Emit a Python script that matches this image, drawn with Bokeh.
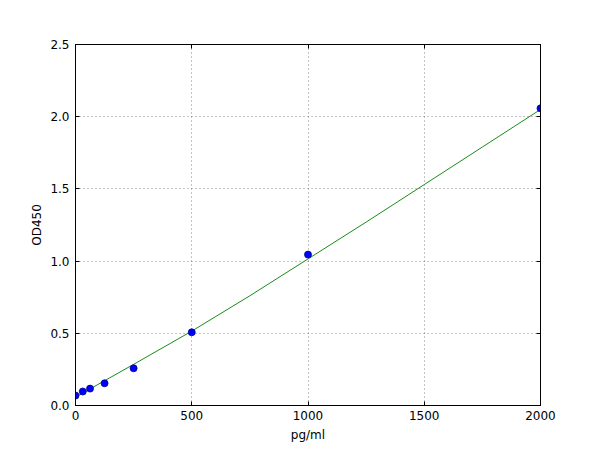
from bokeh.plotting import figure
from bokeh.models import Range1d, LinearAxis, FixedTicker, PrintfTickFormatter
from bokeh.embed import file_html
from bokeh.resources import INLINE

# measured standards
conc = [0, 31.25, 62.5, 125, 250, 500, 1000, 2000]
od = [0.069, 0.097, 0.117, 0.154, 0.258, 0.507, 1.045, 2.058]

# fitted curve
fit_x = [0, 250, 500, 750, 1000, 1250, 1500, 1750, 2000]
fit_y = [0.058, 0.285, 0.515, 0.76, 1.015, 1.27, 1.53, 1.79, 2.05]

x_ticks = [0, 500, 1000, 1500, 2000]
y_ticks = [0.0, 0.5, 1.0, 1.5, 2.0, 2.5]

FONT = "DejaVu Sans"

p = figure(frame_width=465, frame_height=361, output_backend="svg", toolbar_location=None,
           x_range=Range1d(0, 2000), y_range=Range1d(0, 2.5),
           min_border_left=75, min_border_right=52, min_border_top=44, min_border_bottom=37)
p.background_fill_color = "white"
p.border_fill_color = "white"
p.outline_line_color = "black"
p.outline_line_width = 1

p.line(fit_x, fit_y, line_color="#1a8c1a", line_width=1)
p.scatter(conc, od, size=7, fill_color="#0000ff", line_color="#00008b", line_width=0.8)

for ax in (p.xaxis[0], p.yaxis[0]):
    ax.major_tick_in = 4
    ax.major_tick_out = 0
    ax.minor_tick_line_color = None
    ax.major_label_text_font = FONT
    ax.major_label_text_font_size = "12px"
    ax.major_label_text_color = "black"
    ax.axis_label_text_font = FONT
    ax.axis_label_text_font_size = "12px"
    ax.axis_label_text_font_style = "normal"
    ax.axis_label_text_color = "black"
    ax.axis_line_color = "black"

p.xaxis[0].ticker = FixedTicker(ticks=x_ticks)
p.yaxis[0].ticker = FixedTicker(ticks=y_ticks)
p.yaxis[0].formatter = PrintfTickFormatter(format="%.1f")
p.xaxis[0].axis_label = "pg/ml"
p.yaxis[0].axis_label = "OD450"
p.xaxis[0].major_label_standoff = 5
p.yaxis[0].major_label_standoff = 6
p.xaxis[0].axis_label_standoff = 5
p.yaxis[0].axis_label_standoff = 3

top = LinearAxis(ticker=FixedTicker(ticks=x_ticks), major_tick_in=4, major_tick_out=0,
                 minor_tick_line_color=None,
                 major_label_overrides={t: "" for t in x_ticks})
right = LinearAxis(ticker=FixedTicker(ticks=y_ticks), major_tick_in=4, major_tick_out=0,
                   minor_tick_line_color=None,
                   major_label_overrides={t: "" for t in y_ticks})
p.add_layout(top, "above")
p.add_layout(right, "right")

p.xgrid.ticker = FixedTicker(ticks=x_ticks)
p.ygrid.ticker = FixedTicker(ticks=y_ticks)
for g in (p.xgrid, p.ygrid):
    g.grid_line_color = "black"
    g.grid_line_alpha = 0.6
    g.grid_line_width = 0.8
    g.grid_line_dash = "1 3"

open("out.html", "w").write(file_html(p, INLINE))
